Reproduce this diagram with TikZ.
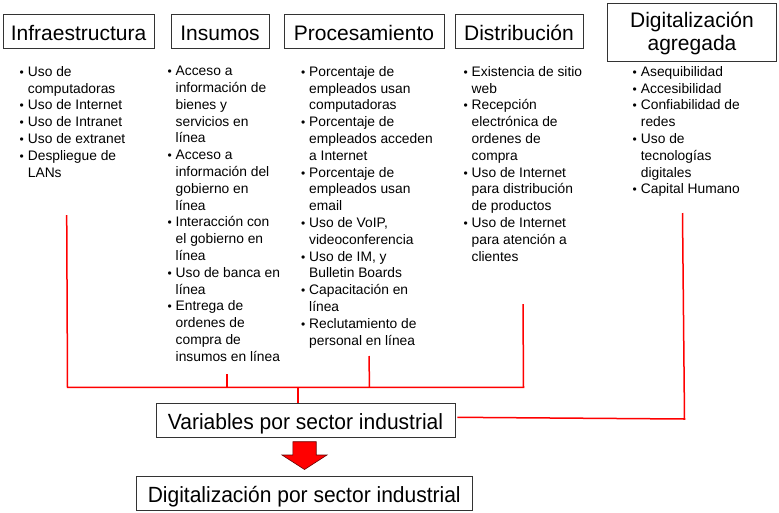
\documentclass[tikz,border=0pt]{standalone}
\usepackage{fontspec}
\setmainfont{Liberation Sans}
\usepackage{graphicx}
\newcommand\bulitem{\llap{{\fontsize{12}{14}\selectfont •}\hspace{4pt}}}
\begin{document}
\begin{tikzpicture}[x=1pt,y=-1pt,
  hdr/.style={draw=black!80, line width=0.8pt, inner sep=0pt, font=\fontsize{21}{23.4}\selectfont, align=center, text height=17.5pt, text depth=0pt},
  bigbox/.style={draw=black!80, line width=0.8pt, inner sep=0pt, font=\fontsize{22}{24}\selectfont, text height=18.5pt, text depth=0pt, minimum height=34pt},
  lst/.style={anchor=north west, inner sep=0pt, align=left, font=\fontsize{13.8}{16.8}\selectfont},
  conn/.style={draw=red, line width=1.5pt},
  bigarrow/.style={fill=red, draw=black!60!red, line width=0.6pt, line join=miter}
]
\useasboundingbox[fill=white] (0,0) rectangle (779,512);

% header boxes
\node[hdr, minimum width=151pt, minimum height=34.5pt] (infra) at (78.5,31.25) {Infraestructura};
\node[hdr, minimum width=98pt, minimum height=34.5pt] (insumos) at (220,31.25) {Insumos};
\node[hdr, minimum width=160pt, minimum height=34.5pt] (proces) at (364,31.25) {Procesamiento};
\node[hdr, minimum width=128pt, minimum height=34.5pt] (distrib) at (519,31.25) {Distribución};
\node[draw=black!80, line width=0.8pt, inner sep=0pt, font=\fontsize{21}{23.4}\selectfont, minimum width=169pt, minimum height=58pt] (agreg) at (692,32) {\raisebox{-2.2pt}[\height][\depth]{\begin{tabular}{@{}c@{}}Digitalización\\agregada\end{tabular}}};

% lists
\node[lst] (l1) at (27.7,66) {\bulitem Uso de\\
computadoras\\
\bulitem Uso de Internet\\
\bulitem Uso de Intranet\\
\bulitem Uso de extranet\\
\bulitem Despliegue de\\
LANs};

\node[lst] (l2) at (175.5,66) {\bulitem Acceso a\\
información de\\
bienes y\\
servicios en\\
línea\\
\bulitem Acceso a\\
información del\\
gobierno en\\
línea\\
\bulitem Interacción con\\
el gobierno en\\
línea\\
\bulitem Uso de banca en\\
línea\\
\bulitem Entrega de\\
ordenes de\\
compra de\\
insumos en línea};

\node[lst] (l3) at (309,66) {\bulitem Porcentaje de\\
empleados usan\\
computadoras\\
\bulitem Porcentaje de\\
empleados acceden\\
a Internet\\
\bulitem Porcentaje de\\
empleados usan\\
email\\
\bulitem Uso de VoIP,\\
videoconferencia\\
\bulitem Uso de IM, y\\
Bulletin Boards\\
\bulitem Capacitación en\\
línea\\
\bulitem Reclutamiento de\\
personal en línea};

\node[lst] (l4) at (471.5,66) {\bulitem Existencia de sitio\\
web\\
\bulitem Recepción\\
electrónica de\\
ordenes de\\
compra\\
\bulitem Uso de Internet\\
para distribución\\
de productos\\
\bulitem Uso de Internet\\
para atención a\\
clientes};

\node[lst] (l5) at (640.7,66) {\bulitem Asequibilidad\\
\bulitem Accesibilidad\\
\bulitem Confiabilidad de\\
redes\\
\bulitem Uso de\\
tecnologías\\
digitales\\
\bulitem Capital Humano};

% bottom boxes
\node[bigbox, minimum width=299pt] (vars) at (305.5,420) {\scalebox{0.955}[1]{Variables por sector industrial}};
\node[bigbox, minimum width=335.5pt] (digit) at (304.25,493.5) {\scalebox{0.955}[1]{Digitalización por sector industrial}};

% red connectors
\coordinate (t1) at (66.7,215);
\coordinate (c1) at (67.5,387.3);
\coordinate (t2) at (227,374);
\coordinate (c2) at (227,387.3);
\coordinate (t3) at (369,356);
\coordinate (c3) at (369.5,387.3);
\coordinate (t4) at (523,304);
\coordinate (c4) at (523.5,387.3);
\coordinate (hub) at (298,387.3);
\coordinate (t5) at (682.5,213);
\coordinate (c5) at (684.5,419);

\draw[conn] (t1) -- (c1) -- (c4) -- (t4);
\draw[conn] (t2) -- (c2);
\draw[conn] (t3) -- (c3);
\draw[conn] (hub) -- (hub |- vars.north);
\draw[conn] (t5) -- (c5) -- ([xshift=2pt,yshift=2.7pt]vars.east);

% big down arrow
\draw[bigarrow] (292.9,441.7) -- (316.2,441.7) -- (316.2,455) -- (327,455) -- (304.5,469.5) -- (282,455) -- (292.9,455) -- cycle;
\end{tikzpicture}
\end{document}
